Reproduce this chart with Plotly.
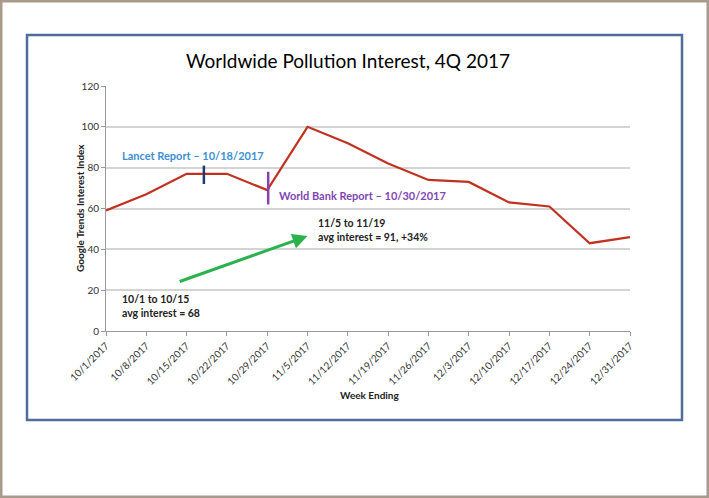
import plotly.graph_objects as go

weeks = ["2017-10-01", "2017-10-08", "2017-10-15", "2017-10-22", "2017-10-29",
         "2017-11-05", "2017-11-12", "2017-11-19", "2017-11-26", "2017-12-03",
         "2017-12-10", "2017-12-17", "2017-12-24", "2017-12-31"]
week_labels = ["10/1/2017", "10/8/2017", "10/15/2017", "10/22/2017", "10/29/2017",
               "11/5/2017", "11/12/2017", "11/19/2017", "11/26/2017", "12/3/2017",
               "12/10/2017", "12/17/2017", "12/24/2017", "12/31/2017"]
interest = [59, 67, 77, 77, 69, 100, 92, 82, 74, 73, 63, 61, 43, 46]
y_ticks = [0, 20, 40, 60, 80, 100, 120]

lancet_date = "2017-10-18"
worldbank_date = "2017-10-29 04:00"

FONT = "Lato"

fig = go.Figure()
fig.add_trace(go.Scatter(x=weeks, y=interest, mode="lines",
                         line=dict(color="#c0311f", width=2.2),
                         showlegend=False, hoverinfo="skip"))

PW, PH = 524, 245
def px(X):
    return (X - 106) / PW
def py(Y):
    return (331 - Y) / PH

shapes = [
    # outer brown frame
    dict(type="rect", xref="paper", yref="paper", x0=px(1), x1=px(708),
         y0=py(497), y1=py(1), line=dict(color="#a89a8c", width=3), layer="below"),
    # inner blue box
    dict(type="rect", xref="paper", yref="paper", x0=px(27), x1=px(682),
         y0=py(420), y1=py(35), line=dict(color="#4f6c9a", width=2.5), layer="below"),
    # Lancet marker
    dict(type="line", xref="x", yref="y", x0=lancet_date, x1=lancet_date, y0=72, y1=81,
         line=dict(color="#1f3b6e", width=2.5)),
    # World Bank marker
    dict(type="line", xref="x", yref="y", x0=worldbank_date, x1=worldbank_date, y0=62, y1=78,
         line=dict(color="#8a3fb0", width=2.5)),
]

annotations = [
    dict(text="Worldwide Pollution Interest, 4Q 2017", xref="paper", yref="paper",
         x=px(348), y=py(60), xanchor="center", yanchor="middle", showarrow=False,
         font=dict(family=FONT, size=19, color="#000000")),
    dict(text="<b>Lancet Report – 10/18/2017</b>", xref="x", yref="y", x="2017-10-03 10:00", y=85.8,
         xanchor="left", yanchor="middle", showarrow=False,
         font=dict(family=FONT, size=11, color="#3d8fd1")),
    dict(text="<b>World Bank Report – 10/30/2017</b>", xref="x", yref="y", x="2017-10-30 17:00", y=66.2,
         xanchor="left", yanchor="middle", showarrow=False,
         font=dict(family=FONT, size=11, color="#7f46b3")),
    dict(text="<b>11/5 to 11/19<br>avg interest = 91, +34%</b>", xref="x", yref="y",
         x="2017-11-06 12:00", y=49.7, xanchor="left", yanchor="middle", align="left",
         showarrow=False, font=dict(family=FONT, size=10.5, color="#222222")),
    dict(text="<b>10/1 to 10/15<br>avg interest = 68</b>", xref="x", yref="y",
         x="2017-10-03 10:00", y=12.2, xanchor="left", yanchor="middle", align="left",
         showarrow=False, font=dict(family=FONT, size=10.5, color="#222222")),
    dict(text="", xref="x", yref="y", axref="x", ayref="y",
         x="2017-11-05", y=46.5, ax="2017-10-13 13:00", ay=24,
         showarrow=True, arrowhead=2, arrowsize=1, arrowwidth=3, arrowcolor="#2bb24c"),
    dict(text="<b>Google Trends Interest Index</b>", xref="paper", yref="paper",
         x=px(80), y=py(208), textangle=-90, showarrow=False,
         xanchor="center", yanchor="middle",
         font=dict(family=FONT, size=10, color="#222222")),
    dict(text="<b>Week Ending</b>", xref="paper", yref="paper",
         x=px(369), y=py(395), showarrow=False,
         xanchor="center", yanchor="middle",
         font=dict(family=FONT, size=10, color="#222222")),
]

fig.update_layout(
    width=709, height=498,
    margin=dict(l=106, r=79, t=86, b=167),
    paper_bgcolor="white", plot_bgcolor="white",
    shapes=shapes, annotations=annotations,
    xaxis=dict(type="date", range=["2017-10-01", "2017-12-31"],
               tickmode="array", tickvals=weeks, ticktext=week_labels, tickangle=-45,
               showgrid=False, zeroline=False, showline=True, linecolor="#9a9a9a",
               ticks="outside", tickcolor="#9a9a9a", ticklen=4,
               tickfont=dict(family=FONT, size=10, color="#333333")),
    yaxis=dict(range=[0, 120], tickmode="array", tickvals=y_ticks,
               showgrid=True, gridcolor="#d4d4d4", gridwidth=1.5, zeroline=False,
               showline=True, linecolor="#9a9a9a", ticks="outside", tickcolor="#9a9a9a",
               ticklen=4, tickfont=dict(family=FONT, size=10, color="#333333")),
)

fig.write_html("out.html", config={"displayModeBar": False},
               post_script="document.body.style.margin='0';document.body.style.overflow='hidden';")
